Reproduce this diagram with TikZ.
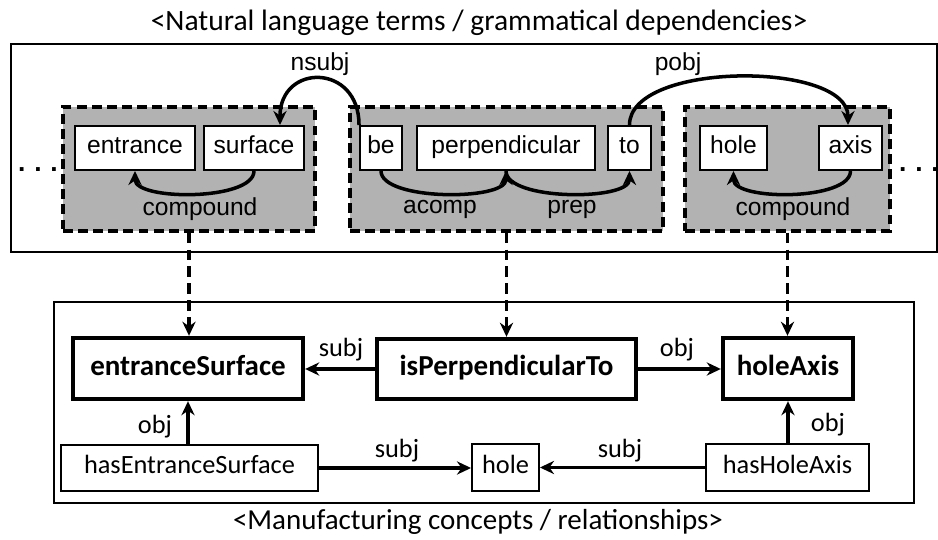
\documentclass[tikz,border=0pt]{standalone}
\usepackage{fontspec}
\setmainfont{Carlito}
\newfontfamily\arialfont{Liberation Sans}
\usepackage{tikz}
\usetikzlibrary{arrows.meta}
\tikzstyle{grp}=[draw=black, fill=black!30, line width=2pt, dash pattern=on 5.6pt off 3pt, inner sep=0pt]
\tikzstyle{word}=[draw=black, fill=white, line width=1.1pt, minimum height=0.88cm, inner sep=0pt, text height=0.8em, text depth=0.12em, font=\arialfont\fontsize{14}{16}\selectfont]
\tikzstyle{deplbl}=[font=\arialfont\fontsize{14}{16}\selectfont]
\tikzstyle{dep}=[line width=2pt, -{Stealth[length=8pt,width=7.5pt]}]
\tikzstyle{concept}=[draw=black, fill=white, line width=2.5pt, minimum height=1.22cm, inner sep=0pt, text height=0.85em, text depth=0.1em, font=\bfseries\fontsize{16.5}{19}\selectfont]
\tikzstyle{relation}=[draw=black, fill=white, line width=1.1pt, minimum height=0.93cm, inner sep=0pt, text height=0.8em, text depth=0.16em, font=\fontsize{15}{18}\selectfont]
\tikzstyle{rellbl}=[font=\fontsize{15}{18}\selectfont]
\tikzstyle{link}=[line width=2pt, -{Stealth[length=8pt,width=7.5pt]}]
\tikzstyle{maps}=[line width=2pt, dash pattern=on 6pt off 3.6pt, -{Stealth[length=8pt,width=7.5pt]}]

\begin{document}
\begin{tikzpicture}[x=0.02cm, y=-0.02cm]
          \useasboundingbox (0,0) rectangle (938,540);
          % natural language side
          \node[font=\fontsize{16.8}{19}\selectfont] (title0) at (479,23){<Natural language terms / grammatical dependencies>};
          \draw[line width=1.1pt] (11,44) rectangle (937,252);
          \node[grp, minimum width=5.04cm, minimum height=2.48cm] (grp0) at (189,169){};
          \node[grp, minimum width=6.26cm, minimum height=2.48cm] (grp1) at (506.5,169){};
          \node[grp, minimum width=4.1cm, minimum height=2.48cm] (grp2) at (787.5,169){};
          \node[word, minimum width=2.4cm] (wentrance) at (135,148){entrance};
          \node[word, minimum width=2.0cm] (wsurface) at (254,148){surface};
          \node[word, minimum width=0.84cm] (wbe) at (381,148){be};
          \node[word, minimum width=3.56cm] (wperp) at (506,148){perpendicular};
          \node[word, minimum width=0.86cm] (wto) at (629.5,148){to};
          \node[word, minimum width=1.34cm] (whole) at (733.5,148){hole};
          \node[word, minimum width=1.26cm] (waxis) at (850.5,148){axis};
          \node[deplbl, anchor=base, font=\arialfont\bfseries\fontsize{15}{16}\selectfont] (dots0) at (38,172){.\,\,.\,\,.};
          \node[deplbl, anchor=base, font=\arialfont\bfseries\fontsize{15}{16}\selectfont] (dots1) at (919,172){.\,\,.\,\,.};
          \draw[dep](wsurface.south) .. controls +(0,30) and +(0,30) .. (wentrance.south);
          \draw[dep](wbe.south) .. controls +(0,30) and +(0,30) .. (wperp.south);
          \draw[dep](wperp.south) .. controls +(0,30) and +(0,30) .. (wto.south);
          \draw[dep](waxis.south) .. controls +(0,30) and +(0,30) .. (whole.south);
          \draw[dep](wbe.north west) .. controls +(0,-62) and +(0,-62) .. ([xshift=0.52cm]wsurface.north);
          \draw[dep](wto.north) .. controls +(0,-64) and +(0,-64) .. ([xshift=-0.05cm]waxis.north);
          \node[deplbl] (lnsubj) at (320,64){nsubj};
          \node[deplbl] (lpobj) at (678,64){pobj};
          \node[deplbl] (lcomp0) at (200,209){compound};
          \node[deplbl] (lacomp) at (440,209){acomp};
          \node[deplbl] (lprep) at (572,209){prep};
          \node[deplbl] (lcomp1) at (793,209){compound};
          % manufacturing side
          \draw[line width=1.1pt] (54,302) rectangle (914,503);
          \node[concept, minimum width=4.6cm] (cEntSurf) at (188,368.5){entranceSurface};
          \node[concept, minimum width=5.18cm, minimum height=1.2cm] (cIsPerp) at (506.5,369){isPerpendicularTo};
          \node[concept, minimum width=2.6cm] (cHoleAxis) at (788,368.5){holeAxis};
          \node[relation, minimum width=5.14cm] (rHasEnt) at (189.5,468){hasEntranceSurface};
          \node[relation, minimum width=1.34cm] (cHole) at (505.5,467.5){hole};
          \node[relation, minimum width=3.26cm] (rHasAxis) at (787.5,467.5){hasHoleAxis};
          \draw[link](cIsPerp.west) -- (cIsPerp.west -| cEntSurf.east);
          \draw[link](cIsPerp.east) -- (cIsPerp.east -| cHoleAxis.west);
          \draw[link](rHasEnt.north -| cEntSurf.south) -- (cEntSurf.south);
          \draw[link](rHasAxis.north -| cHoleAxis.south) -- (cHoleAxis.south);
          \draw[link](rHasEnt.east) -- (rHasEnt.east -| cHole.west);
          \draw[link](rHasAxis.west) -- (rHasAxis.west -| cHole.east);
          \node[rellbl] (lsubj0) at (341,350){subj};
          \node[rellbl] (lobj0) at (677,350){obj};
          \node[rellbl] (lobj1) at (155,427){obj};
          \node[rellbl] (lobj2) at (828,425){obj};
          \node[rellbl] (lsubj1) at (397,451){subj};
          \node[rellbl] (lsubj2) at (620,451){subj};
          \draw[maps](grp0.south) -- (grp0.south |- cEntSurf.north);
          \draw[maps](grp1.south) -- (grp1.south |- cIsPerp.north);
          \draw[maps](grp2.south) -- (grp2.south |- cHoleAxis.north);
          \node[font=\fontsize{16.5}{19}\selectfont] (title1) at (478,522){<Manufacturing concepts / relationships>};
        \end{tikzpicture}
\end{document}
